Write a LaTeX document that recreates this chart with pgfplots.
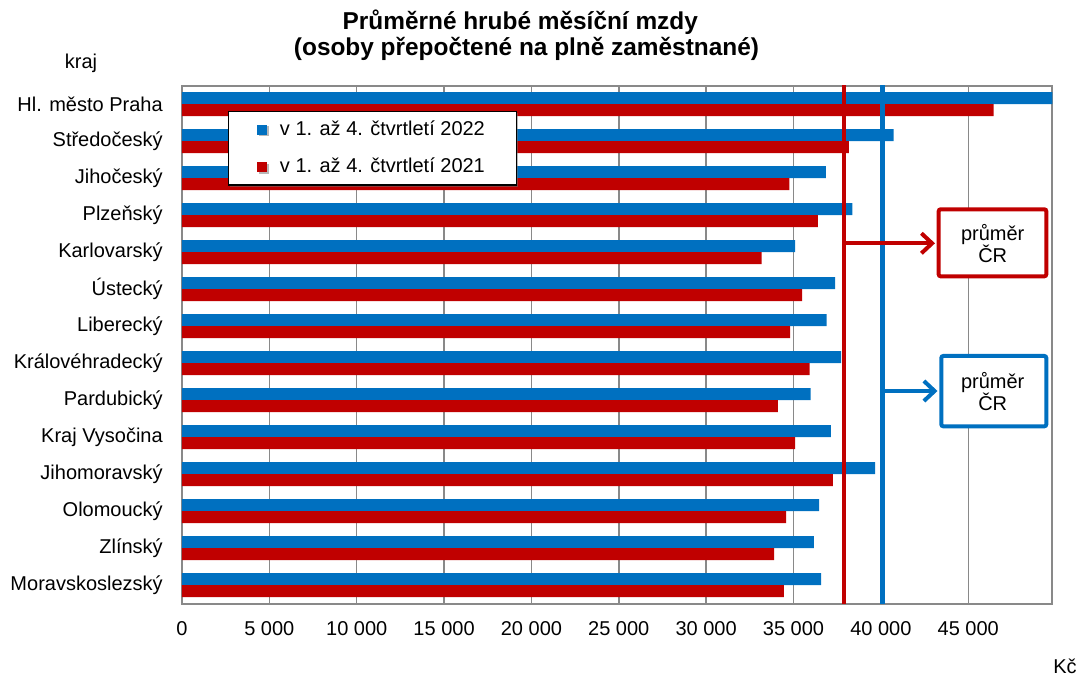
\documentclass[border=0pt]{standalone}
\usepackage{fontspec}
\setmainfont{Liberation Sans}
\usepackage{pgfplots}
\pgfplotsset{compat=1.18}
\usetikzlibrary{arrows.meta,shadows}
\definecolor{cblue}{HTML}{0070C0}
\definecolor{cred}{HTML}{C00000}
\definecolor{cgrid}{HTML}{898989}
\newcommand\fnt{\fontsize{15}{18}\selectfont}
\begin{document}
\begin{tikzpicture}
\useasboundingbox (0,0) rectangle (809.25pt,507pt);
\begin{axis}[
  at={(136.5pt,54.225pt)}, anchor=south west,
  scale only axis, width=652.7pt, height=388.5pt,
  xmin=0, xmax=49810, ymin=-0.5, ymax=13.5, y dir=reverse,
  bar width=0.324,
  scaled x ticks=false,
  xtick={0,5000,10000,15000,20000,25000,30000,35000,40000,45000},
  xticklabels={0,5 000,10 000,15 000,20 000,25 000,30 000,35 000,40 000,45 000},
  ytick={0,...,13},
  yticklabels={Hl. město Praha,Středočeský,Jihočeský,Plzeňský,Karlovarský,Ústecký,Liberecký,Královéhradecký,Pardubický,Kraj Vysočina,Jihomoravský,Olomoucký,Zlínský,Moravskoslezský},
  xmajorgrids, grid style={cgrid, line width=1.1pt},
  axis line style={cgrid, line width=1.5pt},
  major tick length=0pt,
  tick label style={font=\fnt, inner sep=0pt},
  xticklabel style={yshift=-12.8pt},
  yticklabel style={xshift=-14.25pt},
  legend style={at={(0.0525,0.951)}, anchor=north west, draw=black, line width=1pt,
    fill=white, font=\fnt, inner xsep=21.7pt, inner ysep=4.5pt,
    drop shadow={shadow xshift=1.2pt, shadow yshift=-1.2pt, fill=black!55},
    nodes={inner sep=2pt, text height=11pt, text depth=3pt},
    row sep=10pt, column sep=7.5pt, cells={anchor=west}},
  legend image code/.code={\fill[#1] (0pt,-3.75pt) rectangle (7.5pt,3.75pt);},
]
\addplot[xbar, fill=cblue, draw=none, bar shift=-0.162] coordinates {
 (52900,0) (40724,1) (36852,2) (38376,3) (35095,4) (37385,5) (36888,6)
 (37729,7) (35973,8) (37137,9) (39675,10) (36469,11) (36165,12) (36583,13)};
\addlegendentry{v 1. až 4. čtvrtletí 2022}
\addplot[xbar, fill=cred, draw=none, bar shift=0.162] coordinates {
 (46449,0) (38169,1) (34770,2) (36393,3) (33168,4) (35496,5) (34809,6)
 (35916,7) (34104,8) (35095,9) (37252,10) (34580,11) (33893,12) (34448,13)};
\addlegendentry{v 1. až 4. čtvrtletí 2021}
\addplot[cred, line width=3.4pt, forget plot] coordinates {(37884,-0.6) (37884,13.6)};
\addplot[cblue, line width=3.4pt, forget plot] coordinates {(40086,-0.6) (40086,13.6)};
\end{axis}
\begin{scope}[x=0.75pt, y=-0.75pt, shift={(0pt,507pt)}]
  \node[anchor=base, font=\fontsize{18.3}{21}\selectfont\bfseries] at (520.3,29.3) {Průměrné hrubé měsíční mzdy};
  \node[anchor=base, font=\fontsize{18.3}{21}\selectfont\bfseries] at (526.5,55.5) {(osoby přepočtené na plně zaměstnané)};
  \node[anchor=base, font=\fnt] at (81,69) {kraj};
  \node[anchor=base east, font=\fnt, inner sep=0pt] at (1077,673) {Kč};
  % red annotation
  \draw[cred, line width=3pt, -{Straight Barb[length=8pt,width=15pt]}] (845,243.3) -- (935,243.3);
  \draw[cred, line width=3pt, rounded corners=1.5pt, fill=white] (938.7,209.3) rectangle (1046.3,276.3);
  \node[font=\fnt, align=center, inner sep=0pt] at (992.7,244) {průměr\\[-1.5pt]ČR};
  % blue annotation
  \draw[cblue, line width=3pt, -{Straight Barb[length=8pt,width=15pt]}] (883,391) -- (937.5,391);
  \draw[cblue, line width=3pt, rounded corners=1.5pt, fill=white] (941.3,356) rectangle (1046.3,426.3);
  \node[font=\fnt, align=center, inner sep=0pt] at (992.7,392) {průměr\\[-1.5pt]ČR};
\end{scope}
\end{tikzpicture}
\end{document}
